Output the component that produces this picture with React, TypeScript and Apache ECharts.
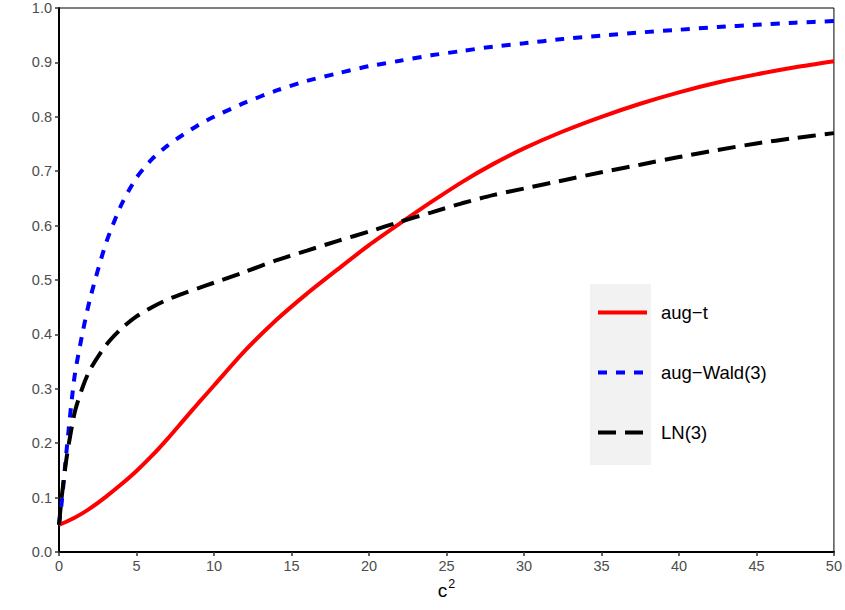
import React, { useEffect, useRef } from "react";
import * as echarts from "echarts";

const xValues = [0, 0.17, 0.5, 1, 1.5, 2, 3, 4, 5, 6, 7, 8, 9, 10, 12, 14, 16, 18, 20, 22, 24, 26, 28, 30, 32.5, 35, 37.5, 40, 42.5, 45, 47.5, 50];
const augT = [0.05, 0.052, 0.056, 0.063, 0.071, 0.08, 0.101, 0.124, 0.149, 0.177, 0.208, 0.241, 0.274, 0.306, 0.37, 0.426, 0.475, 0.52, 0.564, 0.604, 0.643, 0.68, 0.713, 0.742, 0.773, 0.8, 0.824, 0.845, 0.863, 0.878, 0.891, 0.902];
const augWald = [0.05, 0.09, 0.19, 0.322, 0.4, 0.465, 0.565, 0.637, 0.688, 0.722, 0.747, 0.767, 0.785, 0.8, 0.826, 0.848, 0.866, 0.88, 0.893, 0.903, 0.913, 0.921, 0.929, 0.935, 0.943, 0.949, 0.955, 0.96, 0.965, 0.969, 0.973, 0.976];
const ln3 = [0.05, 0.1, 0.175, 0.255, 0.301, 0.335, 0.379, 0.41, 0.433, 0.45, 0.464, 0.475, 0.485, 0.495, 0.515, 0.536, 0.554, 0.572, 0.589, 0.607, 0.624, 0.641, 0.656, 0.668, 0.683, 0.698, 0.712, 0.726, 0.739, 0.751, 0.761, 0.77];
const seriesNames = ["aug\u2212t", "aug\u2212Wald(3)", "LN(3)"];

const pairs = (ys: number[]) => xValues.map((x, i) => [x, ys[i]]);

export default function App() {
  const ref = useRef<HTMLDivElement>(null);
  useEffect(() => {
    if (!ref.current) return;
    const chart = echarts.init(ref.current, undefined, { renderer: "svg" });
    const font = "Liberation Sans, Arial, Helvetica, sans-serif";
    const redStyle = { color: "#ff0000", width: 4, type: "solid" };
    const blueStyle = { color: "#0000ff", width: 4, type: [9, 9], cap: "butt" };
    const blackStyle = { color: "#000000", width: 4, type: [18, 9], cap: "butt" };
    chart.setOption({
      animation: false,
      backgroundColor: "#ffffff",
      textStyle: { fontFamily: font },
      grid: {
        left: 59,
        right: 9,
        top: 8,
        bottom: 58,
        show: true,
        borderColor: "#000000",
        borderWidth: 1,
        backgroundColor: "transparent",
      },
      graphic: [
        {
          type: "rect",
          left: 590,
          top: 284,
          shape: { width: 61, height: 181 },
          style: { fill: "#f2f2f2" },
          z: 0,
        },
      ],
      legend: {
        orient: "vertical",
        left: 596,
        top: 303,
        padding: 0,
        itemWidth: 49,
        itemHeight: 14,
        itemGap: 41,
        itemStyle: { opacity: 0, borderWidth: 0 },
        textStyle: { fontSize: 18.5, color: "#000000", fontFamily: font, padding: [0, 0, 0, 9] },
        data: [
          { name: seriesNames[0], lineStyle: redStyle, itemStyle: { opacity: 0 } },
          { name: seriesNames[1], lineStyle: blueStyle, itemStyle: { opacity: 0 } },
          { name: seriesNames[2], lineStyle: blackStyle, itemStyle: { opacity: 0 } },
        ],
        z: 5,
      },
      xAxis: {
        type: "value",
        min: 0,
        max: 50,
        interval: 5,
        name: "{c|c}{s|2}",
        nameLocation: "middle",
        nameGap: 25,
        nameTextStyle: {
          rich: {
            c: { fontSize: 19, color: "#000000", fontFamily: font, verticalAlign: "bottom" },
            s: { fontSize: 12.5, color: "#000000", fontFamily: font, verticalAlign: "top", padding: [0, 0, 9, 1] },
          },
        },
        axisLine: { show: true, onZero: false, lineStyle: { color: "#000000", width: 2 } },
        axisTick: { show: true, length: 4, lineStyle: { color: "#333333", width: 1.5 } },
        axisLabel: { margin: 6, fontSize: 14.5, color: "#4d4d4d", fontFamily: font },
        splitLine: { show: false },
      },
      yAxis: {
        type: "value",
        min: 0,
        max: 1,
        interval: 0.1,
        axisLine: { show: true, onZero: false, lineStyle: { color: "#000000", width: 2 } },
        axisTick: { show: true, length: 4, lineStyle: { color: "#333333", width: 1.5 } },
        axisLabel: {
          margin: 7,
          fontSize: 14.5,
          color: "#4d4d4d",
          fontFamily: font,
          formatter: (v: number) => v.toFixed(1),
        },
        splitLine: { show: false },
      },
      series: [
        {
          name: seriesNames[0],
          type: "line",
          data: pairs(augT),
          smooth: 0.25,
          symbol: "none",
          lineStyle: redStyle,
          itemStyle: { color: "#ff0000" },
          z: 3,
        },
        {
          name: seriesNames[1],
          type: "line",
          data: pairs(augWald),
          smooth: 0.25,
          symbol: "none",
          lineStyle: blueStyle,
          itemStyle: { color: "#0000ff" },
          z: 2,
        },
        {
          name: seriesNames[2],
          type: "line",
          data: pairs(ln3),
          smooth: 0.25,
          symbol: "none",
          lineStyle: blackStyle,
          itemStyle: { color: "#000000" },
          z: 4,
        },
      ],
    });
    return () => chart.dispose();
  }, []);
  return (
    <div
      ref={ref}
      style={{ position: "absolute", left: 0, top: 0, width: 845, height: 610 }}
    />
  );
}
